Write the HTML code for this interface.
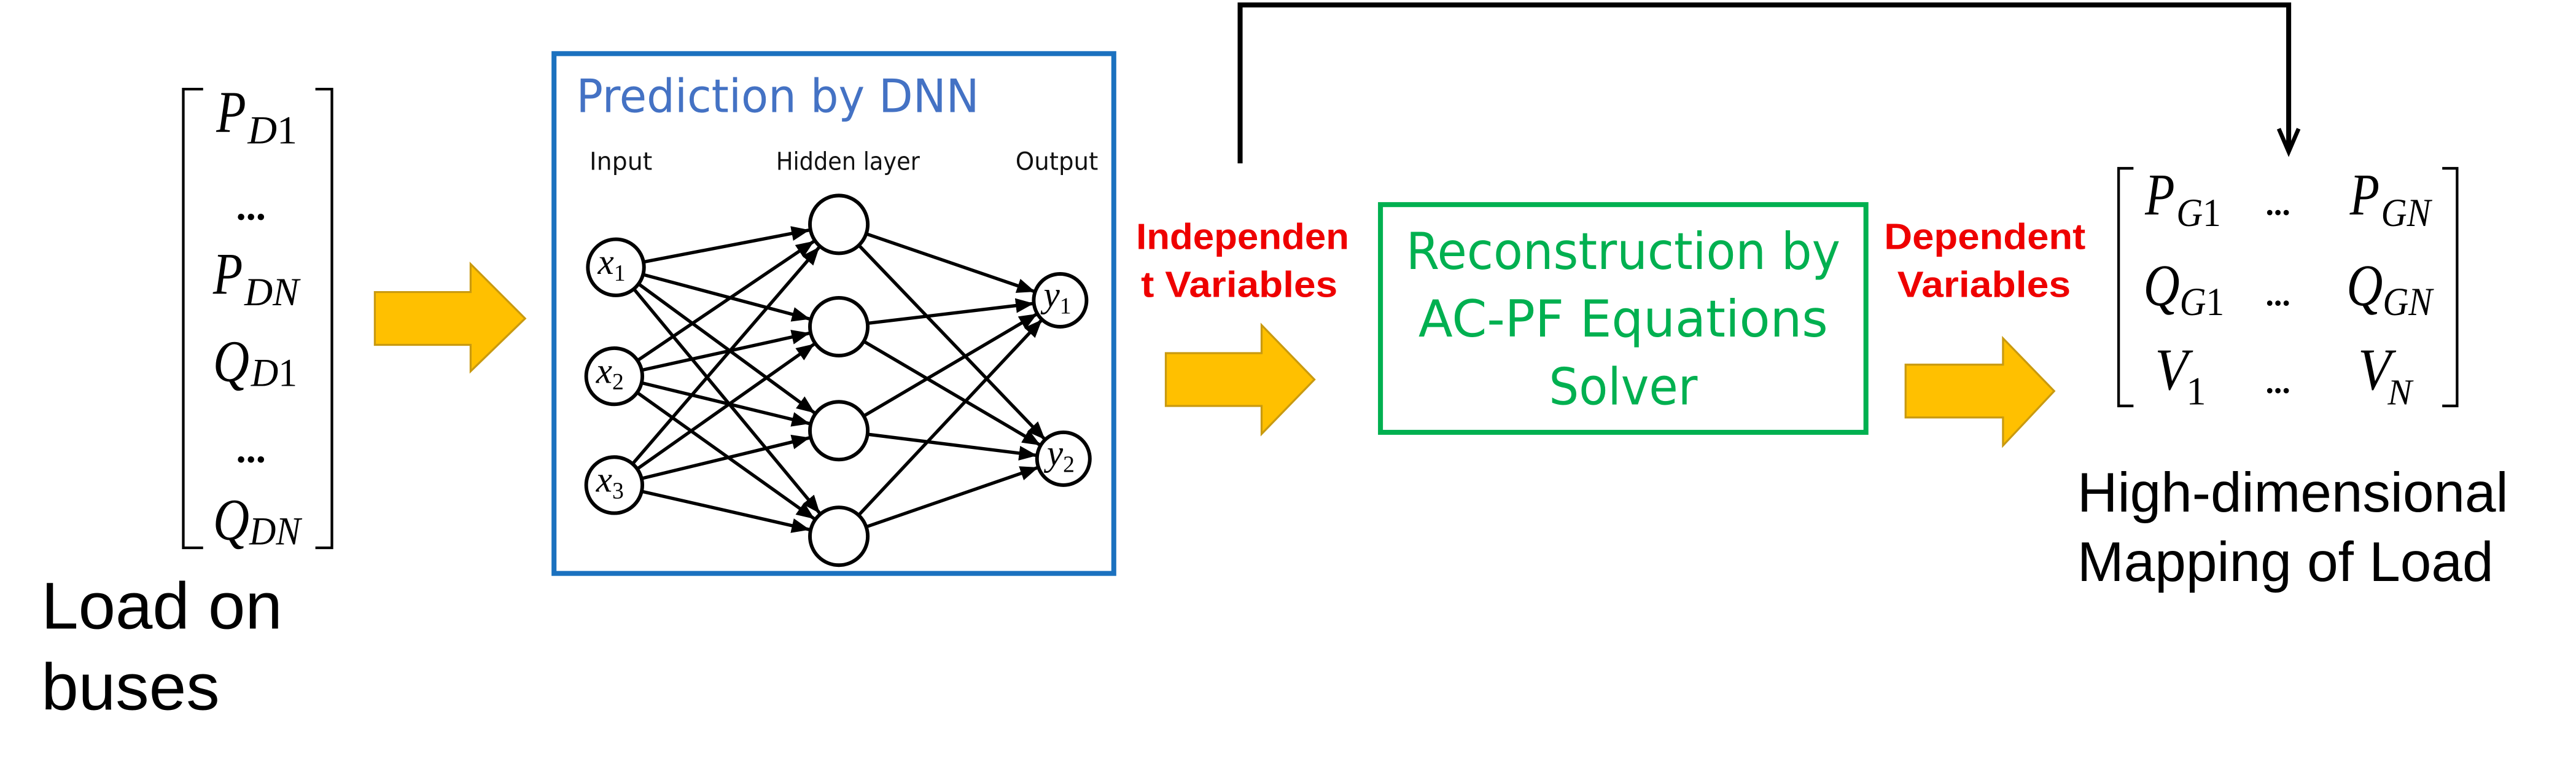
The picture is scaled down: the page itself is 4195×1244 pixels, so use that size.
<!DOCTYPE html>
<html><head><meta charset="utf-8"><style>
html,body{margin:0;padding:0;background:#fff;}
svg{display:block;}
</style></head><body>
<svg width="4195" height="1244" viewBox="0 0 1560 463" preserveAspectRatio="none" xmlns="http://www.w3.org/2000/svg">
<defs>
<marker id="mh" markerUnits="userSpaceOnUse" viewBox="0 -5 30 10" markerWidth="30" markerHeight="10" refX="29" refY="0" orient="auto">
<path d="M0,-4.5 L11,0 L0,4.5 z" fill="#000"/></marker>
<marker id="mo" markerUnits="userSpaceOnUse" viewBox="0 -5 28 10" markerWidth="28" markerHeight="10" refX="27" refY="0" orient="auto">
<path d="M0,-4.5 L11,0 L0,4.5 z" fill="#000"/></marker>
</defs>
<rect width="1560" height="463" fill="#fff"/>

<!-- left matrix -->
<g fill="none" stroke="#000" stroke-width="1.6">
<path d="M123,54 H111 V332 H123"/>
<path d="M191,54 H201 V332 H191"/>
</g>
<g font-family="Liberation Serif, serif" font-style="italic" fill="#000">
<text x="131" y="80" font-size="36" textLength="18" lengthAdjust="spacingAndGlyphs">P</text>
<text x="150" y="87" font-size="24" textLength="30" lengthAdjust="spacingAndGlyphs">D<tspan font-style="normal">1</tspan></text>
<text x="143" y="133" font-size="24" font-weight="bold" font-style="normal">...</text>
<text x="129" y="178" font-size="36" textLength="18" lengthAdjust="spacingAndGlyphs">P</text>
<text x="148" y="185" font-size="24" textLength="33" lengthAdjust="spacingAndGlyphs">DN</text>
<text x="129" y="231" font-size="36" textLength="22" lengthAdjust="spacingAndGlyphs">Q</text>
<text x="152" y="234" font-size="24" textLength="28" lengthAdjust="spacingAndGlyphs">D<tspan font-style="normal">1</tspan></text>
<text x="143" y="280" font-size="24" font-weight="bold" font-style="normal">...</text>
<text x="129" y="327" font-size="36" textLength="22" lengthAdjust="spacingAndGlyphs">Q</text>
<text x="151" y="330" font-size="24" textLength="31" lengthAdjust="spacingAndGlyphs">DN</text>
</g>
<text x="25" y="381" font-family="Liberation Sans, sans-serif" font-size="40" fill="#000" textLength="146" lengthAdjust="spacingAndGlyphs">Load on</text>
<text x="25" y="430" font-family="Liberation Sans, sans-serif" font-size="40" fill="#000" textLength="108" lengthAdjust="spacingAndGlyphs">buses</text>

<!-- arrows -->
<g fill="#ffc000" stroke="#c99a10" stroke-width="1.2">
<path d="M227,177 H285 V160 L318,193 L285,225 V209 H227 Z"/>
<path d="M706,214 H764 V197 L796,230 L764,263 V246 H706 Z"/>
<path d="M1154,221 H1213 V205 L1244,237 L1213,270 V253 H1154 Z"/>
</g>

<!-- blue box -->
<rect x="335.5" y="32.5" width="339" height="315" fill="#fff" stroke="#1b71bf" stroke-width="3"/>
<text x="349" y="68" font-family="DejaVu Sans, sans-serif" font-size="28" fill="#4472c4" textLength="244" lengthAdjust="spacingAndGlyphs">Prediction by DNN</text>
<g font-family="DejaVu Sans, sans-serif" font-size="15" fill="#111">
<text x="357" y="103" textLength="38" lengthAdjust="spacingAndGlyphs">Input</text>
<text x="470" y="103" textLength="87" lengthAdjust="spacingAndGlyphs">Hidden layer</text>
<text x="615" y="103" textLength="50" lengthAdjust="spacingAndGlyphs">Output</text>
</g>
<!-- NN edges -->
<g stroke="#000" stroke-width="2" marker-end="url(#mh)">
<line x1="373" y1="162" x2="508" y2="136"/><line x1="373" y1="162" x2="508" y2="198"/><line x1="373" y1="162" x2="508" y2="261"/><line x1="373" y1="162" x2="508" y2="325"/>
<line x1="372" y1="228" x2="508" y2="136"/><line x1="372" y1="228" x2="508" y2="198"/><line x1="372" y1="228" x2="508" y2="261"/><line x1="372" y1="228" x2="508" y2="325"/>
<line x1="372" y1="294" x2="508" y2="136"/><line x1="372" y1="294" x2="508" y2="198"/><line x1="372" y1="294" x2="508" y2="261"/><line x1="372" y1="294" x2="508" y2="325"/>
</g>
<g stroke="#000" stroke-width="2" marker-end="url(#mo)">
<line x1="508" y1="136" x2="642" y2="182"/><line x1="508" y1="198" x2="642" y2="182"/><line x1="508" y1="261" x2="642" y2="182"/><line x1="508" y1="325" x2="642" y2="182"/>
<line x1="508" y1="136" x2="644" y2="278"/><line x1="508" y1="198" x2="644" y2="278"/><line x1="508" y1="261" x2="644" y2="278"/><line x1="508" y1="325" x2="644" y2="278"/>
</g>
<g fill="#fff" stroke="#000" stroke-width="2.2">
<circle cx="373" cy="162" r="17"/><circle cx="372" cy="228" r="17"/><circle cx="372" cy="294" r="17"/>
<circle cx="508" cy="136" r="17.5"/><circle cx="508" cy="198" r="17.5"/><circle cx="508" cy="261" r="17.5"/><circle cx="508" cy="325" r="17.5"/>
<circle cx="642" cy="182" r="16"/><circle cx="644" cy="278" r="16"/>
</g>
<g font-family="Liberation Serif, serif" font-style="italic" font-size="22" fill="#000">
<text x="362" y="166">x<tspan font-size="14" font-style="normal" dy="4">1</tspan></text>
<text x="361" y="232">x<tspan font-size="14" font-style="normal" dy="4">2</tspan></text>
<text x="361" y="298">x<tspan font-size="14" font-style="normal" dy="4">3</tspan></text>
<text x="632" y="186">y<tspan font-size="14" font-style="normal" dy="4">1</tspan></text>
<text x="634" y="282">y<tspan font-size="14" font-style="normal" dy="4">2</tspan></text>
</g>

<!-- feedback connector -->
<path d="M751,99 V3 H1386 V90" fill="none" stroke="#000" stroke-width="3"/>
<path d="M1380,78 L1386,92 L1392,78" fill="none" stroke="#000" stroke-width="2.5"/>

<!-- red labels -->
<g font-family="Liberation Sans, sans-serif" font-weight="bold" font-size="22" fill="#ee0000">
<text x="688" y="151" textLength="129" lengthAdjust="spacingAndGlyphs">Independen</text>
<text x="691" y="180" textLength="119" lengthAdjust="spacingAndGlyphs">t Variables</text>
<text x="1141" y="151" textLength="122" lengthAdjust="spacingAndGlyphs">Dependent</text>
<text x="1149" y="180" textLength="105" lengthAdjust="spacingAndGlyphs">Variables</text>
</g>

<!-- green box -->
<rect x="836" y="124" width="294" height="138" fill="#fff" stroke="#00b050" stroke-width="3"/>
<g font-family="DejaVu Sans, sans-serif" font-size="31" fill="#00b050" text-anchor="middle">
<text x="983" y="163" textLength="263" lengthAdjust="spacingAndGlyphs">Reconstruction by</text>
<text x="983" y="204" textLength="248" lengthAdjust="spacingAndGlyphs">AC-PF Equations</text>
<text x="983" y="245" textLength="90" lengthAdjust="spacingAndGlyphs">Solver</text>
</g>

<!-- right matrix -->
<g fill="none" stroke="#000" stroke-width="1.6">
<path d="M1292,102 H1283 V246 H1292"/>
<path d="M1479,102 H1488 V246 H1479"/>
</g>
<g font-family="Liberation Serif, serif" font-style="italic" fill="#000">
<text x="1299" y="130" font-size="36" textLength="18" lengthAdjust="spacingAndGlyphs">P</text>
<text x="1318" y="137" font-size="24" textLength="27" lengthAdjust="spacingAndGlyphs">G<tspan font-style="normal">1</tspan></text>
<text x="1372" y="130" font-size="20" font-weight="bold" font-style="normal">...</text>
<text x="1423" y="130" font-size="36" textLength="18" lengthAdjust="spacingAndGlyphs">P</text>
<text x="1442" y="137" font-size="24" textLength="30" lengthAdjust="spacingAndGlyphs">GN</text>
<text x="1298" y="185" font-size="36" textLength="22" lengthAdjust="spacingAndGlyphs">Q</text>
<text x="1320" y="191" font-size="24" textLength="27" lengthAdjust="spacingAndGlyphs">G<tspan font-style="normal">1</tspan></text>
<text x="1372" y="185" font-size="20" font-weight="bold" font-style="normal">...</text>
<text x="1421" y="185" font-size="36" textLength="22" lengthAdjust="spacingAndGlyphs">Q</text>
<text x="1443" y="191" font-size="24" textLength="30" lengthAdjust="spacingAndGlyphs">GN</text>
<text x="1305" y="236" font-size="36" textLength="20" lengthAdjust="spacingAndGlyphs">V</text>
<text x="1324" y="245" font-size="24" font-style="normal">1</text>
<text x="1372" y="238" font-size="20" font-weight="bold" font-style="normal">...</text>
<text x="1428" y="236" font-size="36" textLength="20" lengthAdjust="spacingAndGlyphs">V</text>
<text x="1446" y="245" font-size="22">N</text>
</g>
<text x="1258" y="310" font-family="Liberation Sans, sans-serif" font-size="34" fill="#000" textLength="261" lengthAdjust="spacingAndGlyphs">High-dimensional</text>
<text x="1258" y="352" font-family="Liberation Sans, sans-serif" font-size="34" fill="#000" textLength="252" lengthAdjust="spacingAndGlyphs">Mapping of Load</text>
</svg>
</body></html>
